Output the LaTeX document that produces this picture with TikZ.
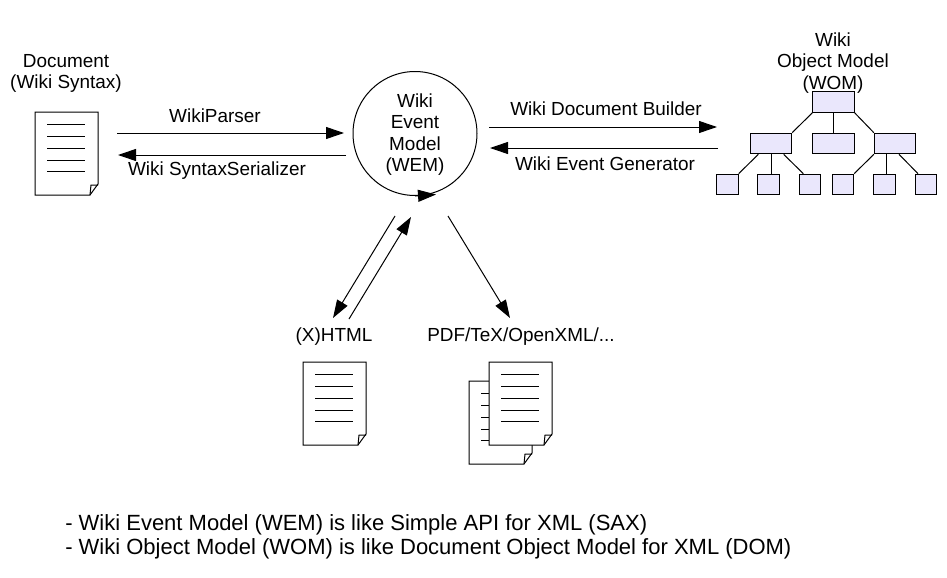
\documentclass[tikz,border=0pt]{standalone}
\usepackage{fontspec}
\setmainfont{Liberation Sans}
\usetikzlibrary{arrows.meta}
\tikzset{
  pen/.style={line width=.75pt},
  flow/.style={pen, -{Triangle[length=13.5pt,width=9pt]}},
  label/.style={inner sep=0pt, font=\fontsize{14.2}{16}\selectfont, align=center},
  wombox/.style={draw, pen, fill=womfill, inner sep=0pt, minimum width=31pt, minimum height=15.5pt},
  womleaf/.style={draw, pen, fill=womfill, inner sep=0pt, minimum width=16pt, minimum height=15.5pt},
}
\definecolor{womfill}{RGB}{234,231,252}
% one sheet: name, left, top
\newcommand{\wikipage}[3]{
\coordinate (#1) at (#2,#3);
\draw[pen, fill=white] (#1) -- ++(63,0) -- ++(0,72) -- ++(-8,11) -- ++(-55,0) -- cycle;
\draw[pen] ([shift={(63,73)}]#1) -- ++(-7,0) -- ++(-1,10);
\foreach \ypos in {12,24,36,48,59}{
\draw[pen] ([shift={(12,\ypos)}]#1) -- ++(38,0);
}
}
\begin{document}
\begin{tikzpicture}[x=.75pt,y=-.75pt]
\useasboundingbox (0,0) rectangle (947,578);

% left document
\node[label] (docname) at (66,73.5){Document\\(Wiki Syntax)};
\wikipage{docpage}{35}{112}

% event model
\node[draw, pen, circle, inner sep=0pt, minimum size=93pt] (wem) at (415,133.5){};
\node[label] (wemname) at (415,134.5){Wiki\\Event\\Model\\(WEM)};
\coordinate (wemtip) at (436,194.5);
\draw[flow] (wem.south) -- (wemtip);

% parser and serializer
\coordinate (parsea) at (117,133);
\coordinate (parseb) at (344,133);
\coordinate (sera) at (346,155);
\coordinate (serb) at (118,155);
\draw[flow] (parsea) -- (parseb);
\draw[flow] (sera) -- (serb);
\node[label] (parser) at (215,115.5){WikiParser};
\node[label] (serial) at (217,170.5){Wiki SyntaxSerializer};

% builder and generator
\coordinate (builda) at (489,127);
\coordinate (buildb) at (717,127);
\coordinate (gena) at (718,148);
\coordinate (genb) at (490,148);
\draw[flow] (builda) -- (buildb);
\draw[flow] (gena) -- (genb);
\node[label] (builder) at (606,108.5){Wiki Document Builder};
\node[label] (generator) at (605,163.5){Wiki Event Generator};

% object model tree
\node[label] (womname) at (833,63){Wiki\\Object Model\\(WOM)};
\node[wombox] (wom0) at (833.5,102){};
\node[wombox] (wom1) at (771,143.5){};
\node[wombox] (wom2) at (833.5,143.5){};
\node[wombox] (wom3) at (895,143.5){};
\node[womleaf] (wom4) at (727.5,184.5){};
\node[womleaf] (wom5) at (768.5,184.5){};
\node[womleaf] (wom6) at (810,184.5){};
\node[womleaf] (wom7) at (843,184.5){};
\node[womleaf] (wom8) at (884.5,184.5){};
\node[womleaf] (wom9) at (926,184.5){};
\draw[pen] (wom0.south west) -- (wom1.north east);
\draw[pen] (wom0.south) -- (wom2.north);
\draw[pen] (wom0.south east) -- (wom3.north west);
\draw[pen] ([xshift=-9.5pt]wom1.south) -- (wom4.north east);
\draw[pen] (wom1.south) -- (wom1.south |- wom5.north);
\draw[pen] ([xshift=9.5pt]wom1.south) -- ([xshift=-5pt]wom6.north);
\draw[pen] (wom3.south west) -- (wom7.north east);
\draw[pen] ([xshift=-6.75pt]wom3.south) -- ([xshift=-6.75pt]wom3.south |- wom8.north);
\draw[pen] ([xshift=3pt]wom3.south) -- ([xshift=-6pt]wom9.north);

% lower arrows
\coordinate (htmla) at (395,216);
\coordinate (htmlb) at (333,318);
\coordinate (htmlc) at (349,319);
\coordinate (htmld) at (411,217);
\coordinate (pdfa) at (448,216);
\coordinate (pdfb) at (510,318);
\draw[flow] (htmla) -- (htmlb);
\draw[flow] (htmlc) -- (htmld);
\draw[flow] (pdfa) -- (pdfb);
\node[label] (html) at (334,337){(X)HTML};
\node[label] (pdf) at (521,337){PDF/TeX/OpenXML/...};

% lower documents
\wikipage{htmlpage}{303}{362}
\wikipage{backpage}{469}{381}
\wikipage{frontpage}{489}{362}

% notes
\node[inner sep=0pt, anchor=west, font=\fontsize{16.5}{18}\selectfont, align=left] (notes) at (65,537){- Wiki Event Model (WEM) is like Simple API for XML (SAX)\\- Wiki Object Model (WOM) is like Document Object Model for XML (DOM)};
\end{tikzpicture}
\end{document}
